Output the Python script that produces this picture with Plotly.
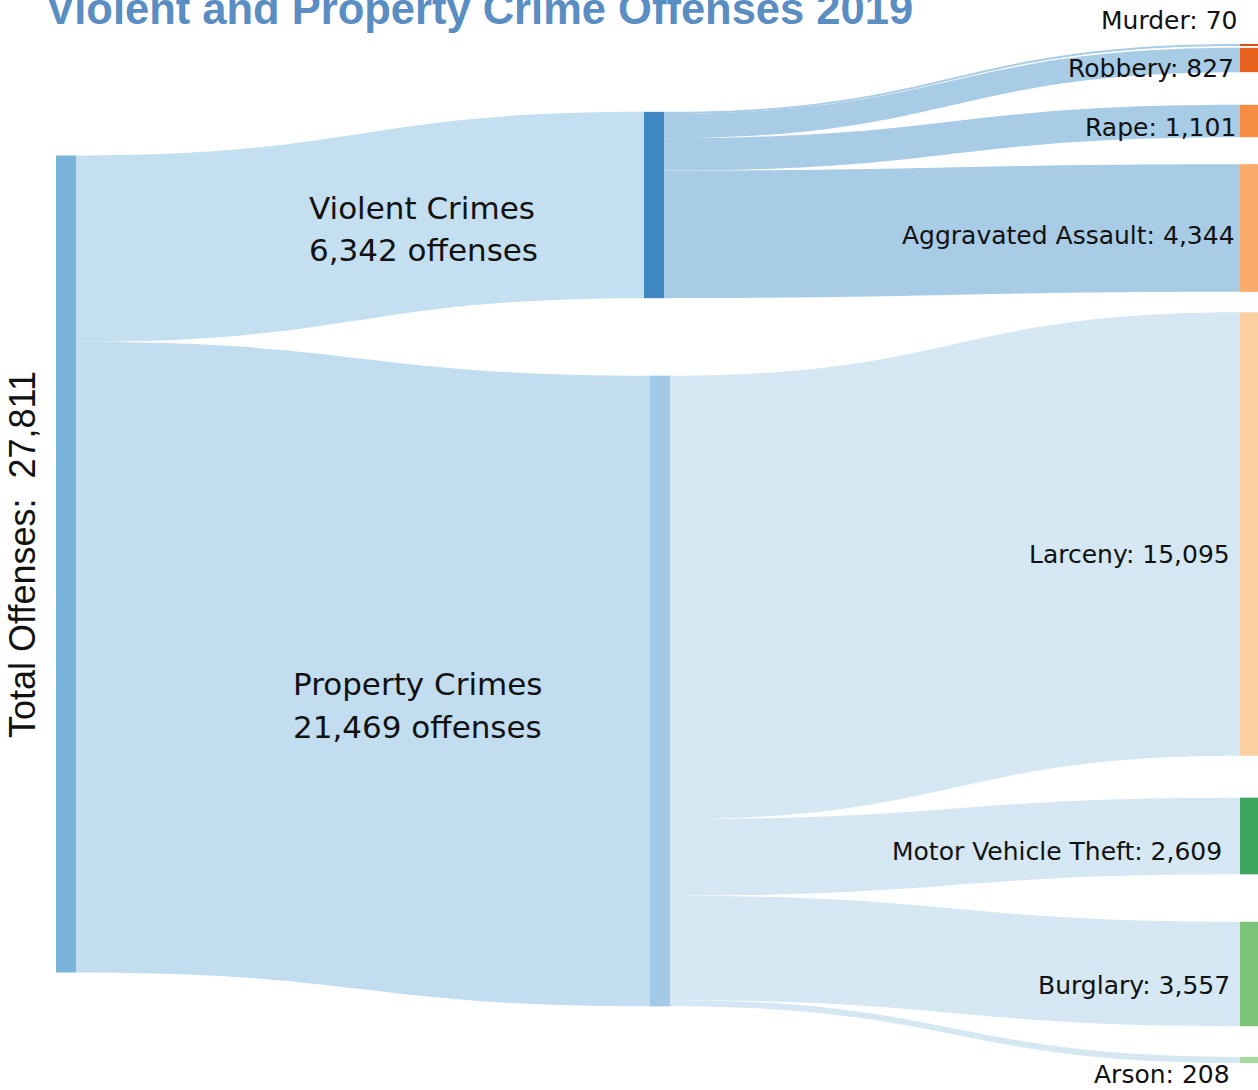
"""Sankey of violent and property crime offenses, 2019."""

import plotly.graph_objects as go

W, H = 1258, 1090

# ---- data -----------------------------------------------------------------
NODE_NAMES = [
    "Total Offenses",
    "Violent Crimes",
    "Property Crimes",
    "Murder",
    "Robbery",
    "Rape",
    "Aggravated Assault",
    "Larceny",
    "Motor Vehicle Theft",
    "Burglary",
    "Arson",
]
LINK_SOURCE = [0, 0, 1, 1, 1, 1, 2, 2, 2, 2]
LINK_TARGET = [1, 2, 3, 4, 5, 6, 7, 8, 9, 10]
LINK_VALUE = [6342, 21469, 70, 827, 1101, 4344, 15095, 2609, 3557, 208]

TITLE = "Violent and Property Crime Offenses 2019"

# ---- styling / placement (pixels in the 1258x1090 page) -------------------
NODE_COLORS = [
    "#7ab4da", "#3f87c2", "#a3c9e8",
    "#d4501c", "#e8621f", "#f68c42", "#f9ac6b", "#fbcf9f",
    "#3ba55c", "#7cc47a", "#a8d9a0",
]
NODE_X_PX = [66, 654, 660, 1250, 1250, 1250, 1250, 1250, 1250, 1250, 1250]
NODE_Y_PX = [564, 205, 691, 45, 60, 121, 228, 534, 836, 974, 1060]

LINK_COLORS = [
    "rgba(196,223,240,1)", "rgba(194,221,239,1)",
    "rgba(168,203,230,1)", "rgba(168,203,230,1)",
    "rgba(168,203,230,1)", "rgba(168,203,230,1)",
    "rgba(212,231,243,1)", "rgba(212,231,243,1)",
    "rgba(212,231,243,1)", "rgba(212,231,243,1)",
]

# right-hand labels: (right edge px, center y px)
LEAF_LABEL_POS = {
    3: (1240, 21),
    4: (1236, 69),
    5: (1238, 127),
    6: (1237, 235),
    7: (1232, 555),
    8: (1224, 851),
    9: (1232, 985),
    10: (1232, 1074),
}
# middle labels: (left px, line-1 center y, line-2 center y)
GROUP_LABEL_POS = {1: (307, 208, 250), 2: (291, 684, 727)}


def px(x):
    return x / W


def py(y):
    return 1 - y / H


fig = go.Figure(
    go.Sankey(
        arrangement="fixed",
        domain=dict(x=[0, 1], y=[0, 1]),
        node=dict(
            label=[""] * len(NODE_NAMES),
            color=NODE_COLORS,
            thickness=20,
            pad=39,
            line=dict(width=0),
            x=[v / W for v in NODE_X_PX],
            y=[v / H for v in NODE_Y_PX],
        ),
        link=dict(
            source=LINK_SOURCE,
            target=LINK_TARGET,
            value=LINK_VALUE,
            color=LINK_COLORS,
        ),
    )
)

node_totals = {}
for s, t, v in zip(LINK_SOURCE, LINK_TARGET, LINK_VALUE):
    node_totals[t] = node_totals.get(t, 0) + v
    if s == 0:
        node_totals[0] = node_totals.get(0, 0) + v

annotations = []

# title, partly cut at the top like the original
annotations.append(dict(
    text=f"<b>{TITLE}</b>", x=px(44), y=py(9), xref="paper", yref="paper",
    xanchor="left", yanchor="middle", showarrow=False,
    font=dict(family="Liberation Sans, Arial", size=43.5, color="#5a8dc2"),
))

# total on the left, rotated
annotations.append(dict(
    text=f"{NODE_NAMES[0]}:\u00a0 {node_totals[0]:,}",
    x=px(23), y=py(555), xref="paper", yref="paper",
    xanchor="center", yanchor="middle", textangle=-90, showarrow=False,
    font=dict(family="Liberation Sans, Arial", size=36, color="#111"),
))

# middle group labels, one annotation per line
for idx, (lx, y1, y2) in GROUP_LABEL_POS.items():
    for text, ly in ((NODE_NAMES[idx], y1), (f"{node_totals[idx]:,} offenses", y2)):
        annotations.append(dict(
            text=text, x=px(lx), y=py(ly), xref="paper", yref="paper",
            xanchor="left", yanchor="middle", showarrow=False,
            font=dict(family="DejaVu Sans", size=31, color="#111"),
        ))

# leaf labels
for idx, (rx, cy) in LEAF_LABEL_POS.items():
    annotations.append(dict(
        text=f"{NODE_NAMES[idx]}: {node_totals[idx]:,}",
        x=px(rx), y=py(cy), xref="paper", yref="paper",
        xanchor="right", yanchor="middle", showarrow=False,
        font=dict(family="DejaVu Sans", size=25, color="#111"),
    ))

fig.update_layout(
    width=W,
    height=H,
    margin=dict(l=0, r=0, t=0, b=0),
    paper_bgcolor="white",
    annotations=annotations,
    showlegend=False,
)

# drop the default 8px body margin so the figure fills the window
fig.write_html(
    "out.html",
    config={"displayModeBar": False},
    post_script="document.body.style.margin='0';",
)
